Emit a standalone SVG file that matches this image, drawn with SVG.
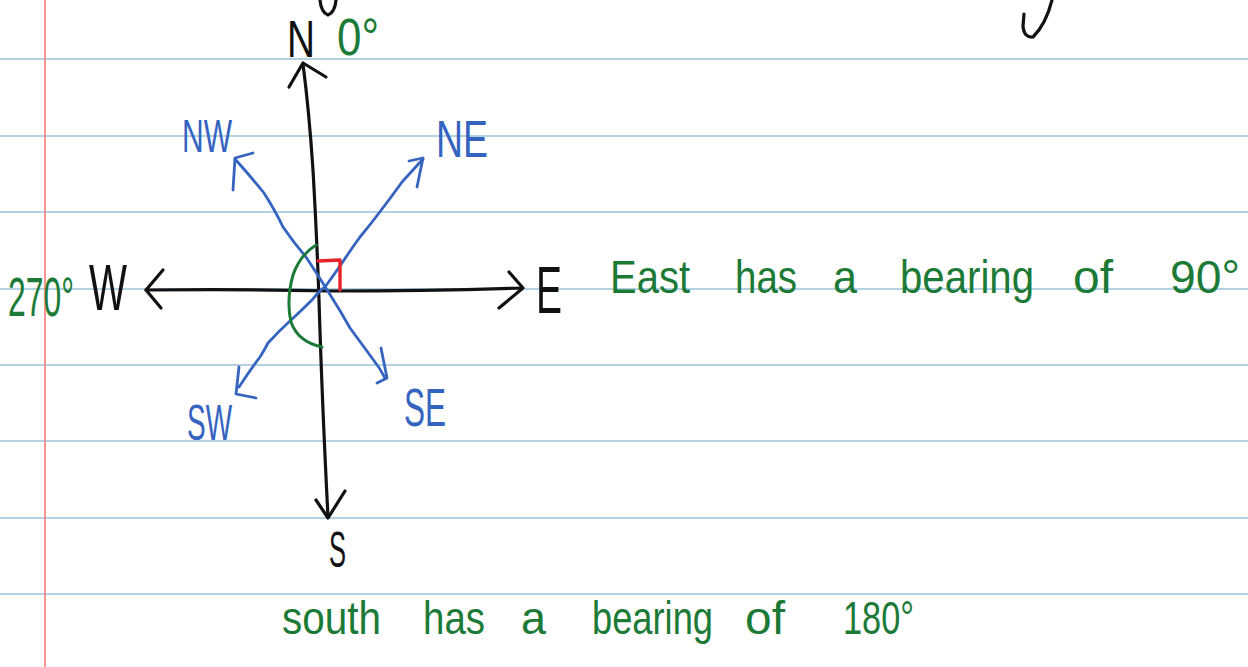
<svg xmlns="http://www.w3.org/2000/svg" width="1248" height="667" viewBox="0 0 1248 667">
<style>
.rule{stroke:#b3d2e3;stroke-width:2;fill:none}
.margin{stroke:#f47a7a;stroke-width:1.6;fill:none}
.ink{fill:none;stroke-linecap:round;stroke-linejoin:round}
.k{stroke:#111;stroke-width:3.2}
.b{stroke:#3563c0;stroke-width:2.8}
.g{stroke:#1b7a36;stroke-width:3}
.r{stroke:#e8222a;stroke-width:3.4}
text{font-family:"Liberation Sans","DejaVu Sans",sans-serif}
.tk{fill:#111}
.tb{fill:#3563c0}
.tg{fill:#1b7a36}
</style>
<rect width="1248" height="667" fill="#ffffff"/>
<g id="paper">
<line class="rule" x1="0" y1="59" x2="1248" y2="59"/>
<line class="rule" x1="0" y1="136" x2="1248" y2="136"/>
<line class="rule" x1="0" y1="212" x2="1248" y2="212"/>
<line class="rule" x1="0" y1="289" x2="1248" y2="289"/>
<line class="rule" x1="0" y1="365" x2="1248" y2="365"/>
<line class="rule" x1="0" y1="441" x2="1248" y2="441"/>
<line class="rule" x1="0" y1="518" x2="1248" y2="518"/>
<line class="rule" x1="0" y1="594" x2="1248" y2="594"/>
<line class="margin" x1="45" y1="0" x2="45" y2="667"/>
</g>
<g id="scribbles">
<path class="ink k" d="M320,0 Q321,12 328,15 Q335,12 336,0"/>
<path class="ink k" stroke-width="2.6" d="M1052,0 Q1046,24 1033,37 Q1024,38 1023,26 L1024,14"/>
</g>
<g id="connectors">
<path class="ink k" d="M303,64 Q309,110 313,170 Q317,240 319,300 Q322,400 328,517"/>
<polyline class="ink k" points="289,87 303,63 326,77"/>
<polyline class="ink k" points="316,500 328,518 345,491"/>
<path class="ink k" d="M146,290 Q250,289 330,291 Q430,291 522,288"/>
<polyline class="ink k" points="163,270 146,290 161,308"/>
<polyline class="ink k" points="509,272 523,288 499,308"/>
<path class="ink b" d="M235,159 Q252,178 264,193 Q276,212 283,227 Q294,243 306,257 Q318,275 329,293 Q340,310 350,328 Q364,347 372,358 Q380,368 385,378"/>
<polyline class="ink b" points="253,153 235,158 233,190"/>
<polyline class="ink b" stroke-width="4.4" points="381,348 387,378 377,383"/>
<path class="ink b" d="M239,387 Q250,370 260,357 Q265,349 268,343 Q280,330 291,320 Q302,310 312,300 Q320,290 325,287 Q336,272 344,260 Q352,248 360,237 Q370,225 379,213 Q392,196 402,182 Q413,170 423,159"/>
<polyline class="ink b" points="409,161 423,158 417,187"/>
<polyline class="ink b" points="239,367 236,394 256,398"/>
<path class="ink r" d="M318,261 L340,260 L340,290"/>
<path class="ink g" d="M316,245 Q300,255 293,275 Q286,300 291,322 Q298,342 322,347"/>
</g>
<g id="north"><text class="tk" x="287" y="57" font-size="52" textLength="28" lengthAdjust="spacingAndGlyphs">N</text></g>
<g id="north-bearing"><text class="tg" x="337" y="55" font-size="52" textLength="42" lengthAdjust="spacingAndGlyphs">0°</text></g>
<g id="west"><text class="tk" x="89" y="310" font-size="64" textLength="38" lengthAdjust="spacingAndGlyphs">W</text></g>
<g id="west-bearing"><text class="tg" transform="translate(8,316) scale(0.57,1)" x="0" y="0" font-size="56">270°</text></g>
<g id="east"><text class="tk" x="536" y="313" font-size="66" textLength="26" lengthAdjust="spacingAndGlyphs">E</text></g>
<g id="south"><text class="tk" x="329" y="567" font-size="50" textLength="17" lengthAdjust="spacingAndGlyphs">S</text></g>
<g id="nw"><text class="tb" x="182" y="152" font-size="46" textLength="50" lengthAdjust="spacingAndGlyphs">NW</text></g>
<g id="ne"><text class="tb" x="436" y="157" font-size="52" textLength="52" lengthAdjust="spacingAndGlyphs">NE</text></g>
<g id="sw"><text class="tb" x="187" y="440" font-size="50" textLength="45" lengthAdjust="spacingAndGlyphs">SW</text></g>
<g id="se"><text class="tb" x="404" y="426" font-size="54" textLength="42" lengthAdjust="spacingAndGlyphs">SE</text></g>
<g id="east-note" class="tg" font-size="46">
<text x="610" y="293" textLength="80" lengthAdjust="spacingAndGlyphs">East</text>
<text x="735" y="293" textLength="62" lengthAdjust="spacingAndGlyphs">has</text>
<text x="833" y="293" textLength="24" lengthAdjust="spacingAndGlyphs">a</text>
<text x="900" y="293" textLength="134" lengthAdjust="spacingAndGlyphs">bearing</text>
<text x="1073" y="293" textLength="40" lengthAdjust="spacingAndGlyphs">of</text>
<text x="1170" y="293" textLength="70" lengthAdjust="spacingAndGlyphs">90°</text>
</g>
<g id="south-note" class="tg" font-size="46">
<text x="282" y="634" textLength="99" lengthAdjust="spacingAndGlyphs">south</text>
<text x="423" y="634" textLength="62" lengthAdjust="spacingAndGlyphs">has</text>
<text x="521" y="634" textLength="25" lengthAdjust="spacingAndGlyphs">a</text>
<text x="592" y="634" textLength="121" lengthAdjust="spacingAndGlyphs">bearing</text>
<text x="745" y="634" textLength="40" lengthAdjust="spacingAndGlyphs">of</text>
<text x="843" y="634" textLength="71" lengthAdjust="spacingAndGlyphs">180°</text>
</g>
</svg>
